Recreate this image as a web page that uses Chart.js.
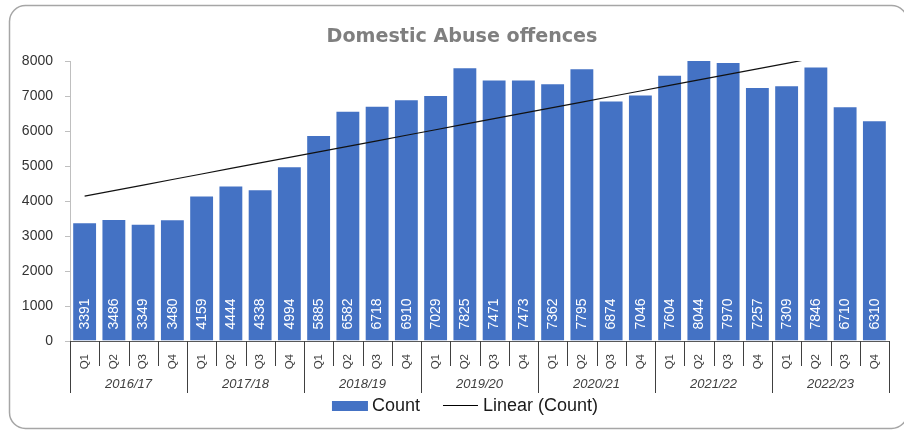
<!DOCTYPE html>
<html><head><meta charset="utf-8">
<script src="https://cdn.jsdelivr.net/npm/chart.js@4/dist/chart.umd.min.js"></script>
<style>html,body{margin:0;padding:0;background:#fff;overflow:hidden}#wrap{width:904px;height:431px;position:relative}</style>
</head><body><div id="wrap"><canvas id="c" width="904" height="431"></canvas></div>
<script>
const chartTitle = 'Domestic Abuse offences';
const years = ['2016/17','2017/18','2018/19','2019/20','2020/21','2021/22','2022/23'];
const quarters = ['Q1','Q2','Q3','Q4'];
const counts = [3391,3486,3349,3480, 4159,4444,4338,4994, 5885,6582,6718,6910, 7029,7825,7471,7473,
                7362,7795,6874,7046, 7604,8044,7970,7257, 7309,7846,6710,6310];
const seriesName = 'Count';
const trendName = 'Linear (Count)';
const yMin = 0, yMax = 8000, yStep = 1000;

const categories = years.flatMap(y => quarters.map(q => q + '|' + y));

// least-squares linear trendline (as Excel's "Linear" trendline)
const n = counts.length;
const mx = (n - 1) / 2;
const my = counts.reduce((a, b) => a + b, 0) / n;
let sxy = 0, sxx = 0;
counts.forEach((v, i) => { sxy += (i - mx) * (v - my); sxx += (i - mx) * (i - mx); });
const slope = sxy / sxx, intercept = my - slope * mx;
const trend = counts.map((v, i) => intercept + slope * i);

const BLUE = '#4472C4';
const SANS = "'Liberation Sans', Arial, sans-serif";

const decor = {
  id: 'decor',
  beforeDraw(chart) {
    const ctx = chart.ctx;
    ctx.save();
    ctx.fillStyle = '#fff';
    ctx.fillRect(0, 0, chart.width, chart.height);
    ctx.strokeStyle = '#a6a6a6';
    ctx.lineWidth = 1.5;
    ctx.beginPath();
    ctx.roundRect(9.5, 5.5, 898, 423, 16);
    ctx.stroke();
    ctx.restore();
  },
  afterDraw(chart) {
    const ctx = chart.ctx;
    const xs = chart.scales.x, ys = chart.scales.y, area = chart.chartArea;
    ctx.save();
    // title
    ctx.fillStyle = '#7f7f7f';
    ctx.font = "bold 19px 'DejaVu Sans', sans-serif";
    let w = ctx.measureText(chartTitle).width;
    const fs = 19 * 271 / w;
    ctx.font = "bold " + fs.toFixed(2) + "px 'DejaVu Sans', sans-serif";
    ctx.textAlign = 'center';
    ctx.textBaseline = 'alphabetic';
    ctx.fillText(chartTitle, 462, 41.5);

    // data labels inside bars
    const meta = chart.getDatasetMeta(1);
    const base = ys.getPixelForValue(0);
    ctx.fillStyle = '#ffffff';
    ctx.font = "14px " + SANS;
    ctx.textAlign = 'center';
    ctx.textBaseline = 'middle';
    meta.data.forEach((bar, i) => {
      ctx.save();
      ctx.translate(bar.x + 0.5, base - 27);
      ctx.rotate(-Math.PI / 2);
      ctx.fillText(String(counts[i]), 0, 0);
      ctx.restore();
    });

    // category separators
    ctx.strokeStyle = '#404040';
    ctx.lineWidth = 1;
    const bounds = [];
    for (let i = 0; i <= n; i++) {
      let bx;
      if (i === 0) bx = area.left;
      else if (i === n) bx = area.right;
      else bx = (xs.getPixelForValue(i - 1) + xs.getPixelForValue(i)) / 2;
      bounds.push(bx);
      const len = (i % quarters.length === 0) ? 52 : 25;
      const px = Math.round(bx) + 0.5;
      ctx.beginPath();
      ctx.moveTo(px, area.bottom);
      ctx.lineTo(px, area.bottom + len);
      ctx.stroke();
    }
    // year group labels
    ctx.fillStyle = '#404040';
    ctx.font = "italic 13px " + SANS;
    ctx.textAlign = 'center';
    ctx.textBaseline = 'middle';
    years.forEach((y, g) => {
      const x0 = bounds[g * 4], x1 = bounds[g * 4 + 4];
      ctx.fillText(y, (x0 + x1) / 2, area.bottom + 43);
    });

    // legend
    ctx.font = "18px " + SANS;
    ctx.textBaseline = 'middle';
    ctx.textAlign = 'left';
    const w1 = ctx.measureText(seriesName).width;
    const w2 = ctx.measureText(trendName).width;
    const total = 36 + 4 + w1 + 23 + 35 + 5 + w2;
    let lx = 465 - total / 2;
    const ly = 406;
    ctx.fillStyle = BLUE;
    ctx.fillRect(lx, ly - 5, 36, 10);
    lx += 40;
    ctx.fillStyle = '#1a1a1a';
    ctx.fillText(seriesName, lx, ly);
    lx += w1 + 23;
    ctx.strokeStyle = '#000';
    ctx.beginPath();
    ctx.moveTo(lx, ly - 0.5);
    ctx.lineTo(lx + 35, ly - 0.5);
    ctx.stroke();
    lx += 40;
    ctx.fillText(trendName, lx, ly);
    ctx.restore();
  }
};

new Chart(document.getElementById('c'), {
  type: 'bar',
  data: {
    labels: categories,
    datasets: [
      {
        type: 'line', label: trendName, data: trend,
        borderColor: '#111', borderWidth: 1.2, pointRadius: 0, tension: 0,
        fill: false, order: 1, clip: 0
      },
      {
        type: 'bar', label: seriesName, data: counts,
        backgroundColor: BLUE, borderColor: 'rgba(255,255,255,0.45)', borderWidth: 1,
        barPercentage: 0.85, categoryPercentage: 1, order: 2, clip: 0
      }
    ]
  },
  options: {
    responsive: false, animation: false, devicePixelRatio: 1,
    layout: { padding: { top: 61, left: 0, right: 15, bottom: 0 } },
    plugins: { legend: { display: false }, title: { display: false }, tooltip: { enabled: false } },
    scales: {
      x: {
        offset: true,
        grid: { display: false },
        border: { display: true, color: '#595959', width: 1 },
        ticks: {
          autoSkip: false, minRotation: 90, maxRotation: 90, padding: 5,
          color: '#404040', font: { family: SANS, size: 11.5 },
          callback: (v, i) => categories[i].split('|')[0]
        },
        afterFit(s) { s.height = 90; }
      },
      y: {
        min: yMin, max: yMax,
        ticks: { stepSize: yStep, color: '#333', font: { family: SANS, size: 14 }, padding: 12,
                 callback: v => String(v) },
        grid: { drawOnChartArea: false, drawTicks: true, tickLength: 5, color: '#bfbfbf' },
        border: { display: true, color: '#bfbfbf', width: 1 },
        afterFit(s) { s.width = 70; }
      }
    }
  },
  plugins: [decor]
});
</script>
</body></html>
